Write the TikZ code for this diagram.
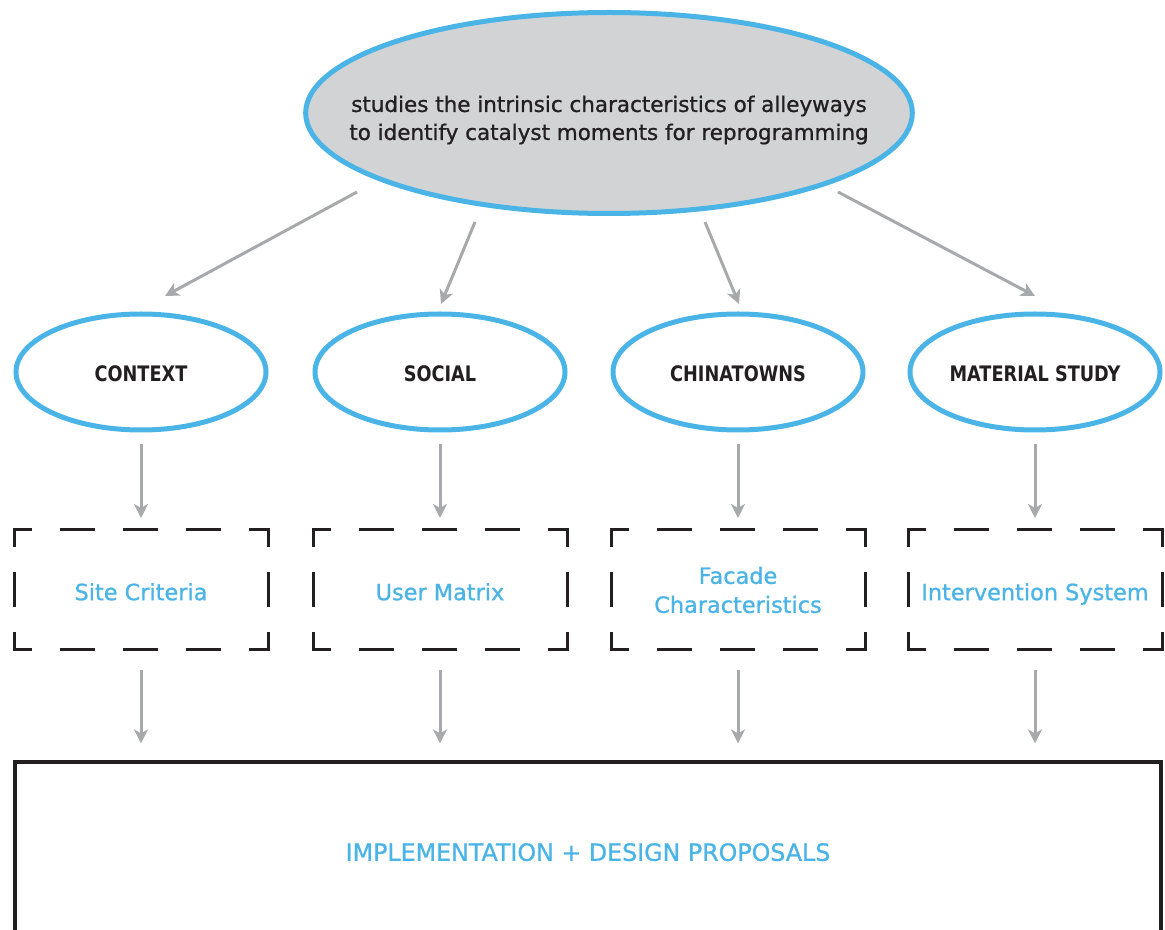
\documentclass[tikz,border=0pt]{standalone}
\usepackage{fontspec}
\setmainfont{DejaVu Sans}[FakeBold=1]
\newfontfamily\labfont{DejaVu Sans}[FakeStretch=0.83]
\usetikzlibrary{shapes.geometric,arrows.meta}
\definecolor{cblue}{HTML}{4BB4E6}
\definecolor{cfill}{HTML}{D1D3D4}
\definecolor{carrow}{HTML}{A7A9AC}
\definecolor{cdark}{HTML}{231F20}
\newcommand\dashframe[1]{%
  \draw[hd] (#1.north west) -- (#1.north east);
  \draw[hd] (#1.south west) -- (#1.south east);
  \draw[vd] (#1.north west) -- (#1.south west);
  \draw[vd] (#1.north east) -- (#1.south east);}
\begin{document}
\begin{tikzpicture}[x=0.75pt,y=-0.75pt,
  topnode/.style={ellipse,draw=cblue,fill=cfill,line width=3.75pt,minimum width=455pt,minimum height=150.75pt,inner sep=0pt},
  toptext/.style={align=center,inner sep=0pt,font=\fontsize{16.1}{21}\selectfont,text=cdark},
  catnode/.style={ellipse,draw=cblue,fill=white,line width=3.75pt,minimum width=187.5pt,minimum height=87pt,inner sep=0pt,text height=14.7pt,text depth=0pt,font=\labfont\bfseries\fontsize{16}{19}\selectfont,text=cdark},
  stagebox/.style={rectangle,minimum width=190.5pt,minimum height=90pt,inner sep=0pt,outer sep=0pt,align=center,text=cblue,font=\fontsize{16.8}{21.75}\selectfont},
  oneline/.style={text height=15.3pt,text depth=0pt},
  hd/.style={draw=cdark,line width=2.25pt,line cap=rect,dash pattern=on 24pt off 23.25pt,dash phase=12pt},
  vd/.style={draw=cdark,line width=2.25pt,line cap=rect,dash pattern=on 24pt off 21pt,dash phase=12pt},
  arr/.style={draw=carrow,line width=2.25pt,-{Stealth[length=10.5pt,width=10.5pt,inset=3pt]}},
  finalbox/.style={rectangle,draw=cdark,line width=2.4pt,minimum width=859.5pt,minimum height=135pt,inner sep=0pt,text=cblue,text height=13.2pt,text depth=0pt,font=\fontsize{17.8}{21}\selectfont}]
\useasboundingbox (0,0) rectangle (1165,930);

\node[topnode] (top) at (609,113) {};
\node[toptext] (toplabel) at (609,120) {studies the intrinsic characteristics of alleyways\\to identify catalyst moments for reprogramming};

\node[catnode] (ctx) at (141,372) {CONTEXT};
\node[catnode] (soc) at (440,372) {SOCIAL};
\node[catnode] (chn) at (738,372) {CHINATOWNS};
\node[catnode] (mat) at (1035,372) {MATERIAL STUDY};

\node[stagebox,oneline] (b1) at (141,590) {Site Criteria};
\node[stagebox,oneline] (b2) at (440,590) {User Matrix};
\node[stagebox] (b3) at (738,590) {Facade\\Characteristics};
\node[stagebox,oneline] (b4) at (1035,590) {Intervention System};
\dashframe{b1}\dashframe{b2}\dashframe{b3}\dashframe{b4}

\node[finalbox] (impl) at (588,852) {IMPLEMENTATION + DESIGN PROPOSALS};

\coordinate (s1) at (357,192); \coordinate (e1) at (165,296);
\coordinate (s2) at (475,222); \coordinate (e2) at (441,304);
\coordinate (s3) at (705,222); \coordinate (e3) at (739,304);
\coordinate (s4) at (838,192); \coordinate (e4) at (1035,296);
\draw[arr] (s1) -- (e1);
\draw[arr] (s2) -- (e2);
\draw[arr] (s3) -- (e3);
\draw[arr] (s4) -- (e4);

\foreach \a/\b in {ctx/b1,soc/b2,chn/b3,mat/b4}{
  \draw[arr,shorten <=9pt,shorten >=9pt] (\a.south) -- (\b.north);
}
\foreach \b in {b1,b2,b3,b4}{
  \draw[arr,shorten <=15pt,shorten >=12.75pt] (\b.south) -- (\b.south |- impl.north);
}
\end{tikzpicture}
\end{document}
